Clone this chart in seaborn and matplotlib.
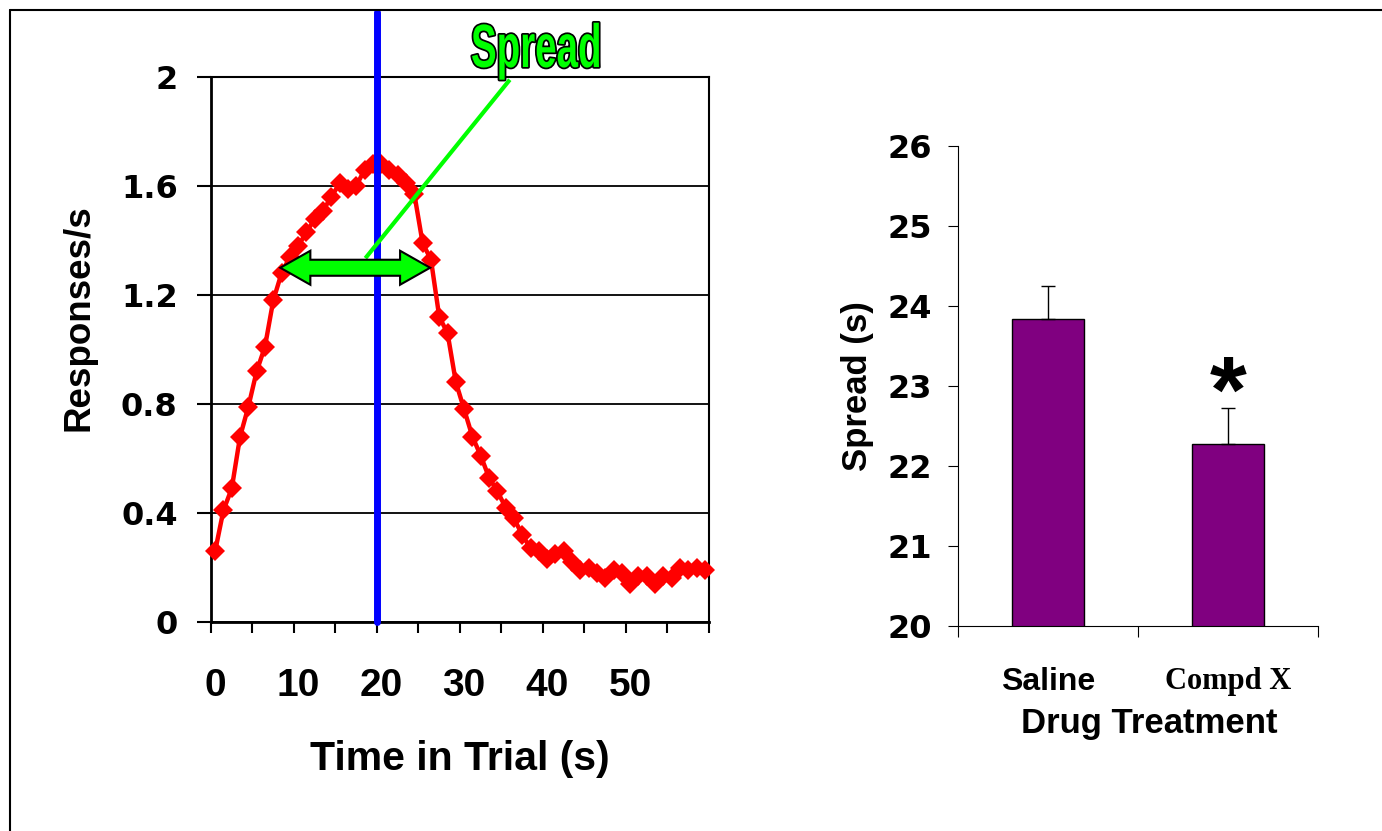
import matplotlib
matplotlib.use("Agg")
import matplotlib.pyplot as plt
import matplotlib.colors as mcolors
import seaborn as sns
import pandas as pd
import numpy as np
from matplotlib import patheffects as pe
from matplotlib.transforms import Affine2D
from matplotlib.lines import Line2D
from matplotlib.patches import Polygon
from matplotlib.ticker import FixedLocator

# ---------------- data ----------------
time_s = list(range(60))
responses = [0.26, 0.41, 0.49, 0.68, 0.79, 0.92, 1.01, 1.18, 1.28, 1.34,
             1.38, 1.43, 1.48, 1.51, 1.56, 1.61, 1.59, 1.60, 1.66, 1.68,
             1.68, 1.66, 1.64, 1.61, 1.57, 1.39, 1.33, 1.12, 1.06, 0.88,
             0.78, 0.68, 0.61, 0.53, 0.48, 0.42, 0.38, 0.32, 0.27, 0.26,
             0.23, 0.25, 0.26, 0.22, 0.19, 0.20, 0.18, 0.16, 0.19, 0.18,
             0.14, 0.17, 0.17, 0.14, 0.17, 0.16, 0.20, 0.19, 0.20, 0.19]
left_yticks = [0, 0.4, 0.8, 1.2, 1.6, 2.0]
left_ytick_labels = ["0", "0.4", "0.8", "1.2", "1.6", "2"]
left_xticks = [0, 10, 20, 30, 40, 50]
left_xtick_labels = ["0", "10", "20", "30", "40", "50"]

treatments = ["Saline", "Compd X"]
spread_means = [23.84, 22.27]
spread_sem = [0.41, 0.46]
right_yticks = [20, 21, 22, 23, 24, 25, 26]

peak_time = 19.5                       # blue vertical marker
arrow_span = (7.85, 25.9)              # green double arrow (x extent)
arrow_level = 1.30                     # green double arrow (y)
pointer_start = (18.1, 1.335)          # green pointer line
pointer_end = (35.5, 1.99)

W, H = 1382, 831

sns.set_style("ticks")
plt.rcParams["font.family"] = ["Liberation Sans", "DejaVu Sans"]
plt.rcParams["font.weight"] = "bold"
for key in ["text.color", "axes.labelcolor", "xtick.color", "ytick.color",
            "axes.edgecolor"]:
    plt.rcParams[key] = "black"


class Squeeze(pe.AbstractPathEffect):
    """Draw text glyphs horizontally condensed, with an outline."""
    def __init__(self, sx, edge, lw, face):
        super().__init__()
        self.sx = sx
        self.edge = edge
        self.lw = lw
        self.face = mcolors.to_rgba(face)

    def draw_path(self, renderer, gc, tpath, affine, rgbFace=None):
        aff = Affine2D().scale(self.sx, 1.0) + affine
        g0 = renderer.new_gc()
        g0.copy_properties(gc)
        g0.set_foreground(self.edge)
        g0.set_linewidth(self.lw)
        g0.set_joinstyle("round")
        renderer.draw_path(g0, tpath, aff, self.face)
        g0.restore()
        g1 = renderer.new_gc()
        g1.copy_properties(gc)
        g1.set_linewidth(0)
        renderer.draw_path(g1, tpath, aff, self.face)
        g1.restore()


fig = plt.figure(figsize=(W / 100, H / 100), dpi=100, facecolor="white")
ax1 = fig.add_axes([211 / W, 1 - 622 / H, 498 / W, 545 / H])
ax2 = fig.add_axes([958.3 / W, 1 - 626 / H, 359.7 / W, 480 / H])

# ---------------- left: response-rate curve ----------------
df = pd.DataFrame({"t": time_s, "r": responses})
sns.lineplot(data=df, x="t", y="r", ax=ax1, color="#FF0000", lw=3.2,
             marker="D", markersize=10, markeredgewidth=0, zorder=3,
             clip_on=False)

ax1.set_xlim(-0.5, 59.5)
ax1.set_ylim(0, 2)
ax1.set_yticks(left_yticks)
ax1.set_yticklabels(left_ytick_labels, fontsize=23, fontweight="bold",
                    family="DejaVu Sans", color="black")
ax1.set_xticks(left_xticks)
ax1.set_xticklabels(left_xtick_labels, fontsize=28, fontweight="bold",
                    color="black")
ax1.xaxis.set_minor_locator(FixedLocator(np.arange(-0.5, 60, 5)))
ax1.tick_params(axis="x", which="major", length=0, pad=33)
ax1.tick_params(axis="x", which="minor", length=8, width=1.5,
                direction="out", bottom=True, color="black")
ax1.tick_params(axis="y", which="major", length=10, width=1.5,
                direction="out", pad=14, left=True, color="black")
ax1.grid(axis="y", color="black", lw=1.3)
ax1.grid(axis="x", visible=False)
for side in ["left", "bottom"]:
    ax1.spines[side].set_linewidth(2)
    ax1.spines[side].set_color("black")
for side in ["top", "right"]:
    ax1.spines[side].set_visible(True)
    ax1.spines[side].set_linewidth(1.5)
    ax1.spines[side].set_color("black")

ax1.set_xlabel("Time in Trial (s)", fontsize=29.5, fontweight="bold",
               color="black")
ax1.xaxis.label.set_va("baseline")
ax1.xaxis.set_label_coords(0.5, -0.2716)
ax1.set_ylabel("Responses/s", fontsize=26.5, fontweight="bold",
               color="black")
ax1.yaxis.label.set_va("baseline")
ax1.yaxis.set_label_coords(-0.246, 0.558)

# blue peak-time marker (extends above the plot area)
ax1.add_line(Line2D([peak_time, peak_time], [0, 1.119], color="#0000FF",
                    lw=5, transform=ax1.get_xaxis_transform(),
                    clip_on=False, zorder=4))

# green pointer line and double arrow
ax1.plot([pointer_start[0], pointer_end[0]], [pointer_start[1], pointer_end[1]],
         color="#00FF00", lw=3, clip_on=False, zorder=5,
         solid_capstyle="butt")
L, R = arrow_span
y0 = arrow_level
hl, hh, sh = 3.62, 0.0624, 0.0294
arrow_pts = [(L, y0), (L + hl, y0 + hh), (L + hl, y0 + sh), (R - hl, y0 + sh),
             (R - hl, y0 + hh), (R, y0), (R - hl, y0 - hh), (R - hl, y0 - sh),
             (L + hl, y0 - sh), (L + hl, y0 - hh)]
ax1.add_patch(Polygon(arrow_pts, closed=True, facecolor="#00FF00",
                      edgecolor="black", lw=1.5, zorder=6, clip_on=False))

fig.text(471 / W, 1 - 67 / H, "Spread", fontsize=44, fontweight="bold",
         ha="left", va="baseline", color="#00FF00",
         path_effects=[Squeeze(0.63, "black", 2.5, "#00FF00")])

# ---------------- right: spread bar chart ----------------
sns.barplot(x=treatments, y=spread_means, ax=ax2, color="#800080",
            saturation=1, width=0.4, edgecolor="black", linewidth=1,
            errorbar=None, zorder=2)
xpos = np.arange(len(treatments))
ax2.errorbar(xpos, spread_means,
             yerr=[np.zeros(len(spread_sem)), spread_sem],
             fmt="none", ecolor="black", elinewidth=1, capsize=5,
             capthick=1, zorder=3)
ax2.set_xlim(-0.5, 1.5)
ax2.set_ylim(20, 26)
ax2.set_yticks(right_yticks)
ax2.set_yticklabels([str(v) for v in right_yticks], fontsize=23,
                    fontweight="bold", family="DejaVu Sans", color="black")
ax2.set_xticks(xpos)
ax2.set_xticklabels(treatments, color="black")
xl = ax2.get_xticklabels()
xl[0].set_fontsize(23)
xl[0].set_fontweight("bold")
xl[0].set_family("Liberation Sans")
xl[1].set_fontsize(22)
xl[1].set_fontweight("bold")
xl[1].set_family("Liberation Serif")
ax2.xaxis.set_minor_locator(FixedLocator([-0.5, 0.5, 1.5]))
ax2.tick_params(axis="x", which="major", length=0, pad=29.5)
ax2.tick_params(axis="x", which="minor", length=8, width=0.8,
                direction="out", bottom=True, color="black")
ax2.tick_params(axis="y", which="major", length=7, width=0.8,
                direction="out", pad=12, left=True, color="black")
for side in ["top", "right"]:
    ax2.spines[side].set_visible(False)
for side in ["left", "bottom"]:
    ax2.spines[side].set_linewidth(0.8)
    ax2.spines[side].set_color("black")

ax2.set_xlabel("Drug Treatment", fontsize=25, fontweight="bold",
               color="black")
ax2.xaxis.label.set_va("baseline")
ax2.xaxis.set_label_coords(0.532, -0.223)
ax2.set_ylabel("Spread (s)", fontsize=25, fontweight="bold", color="black")
ax2.yaxis.label.set_va("baseline")
ax2.yaxis.set_label_coords(-0.255, 0.5)

ax2.text(1, 22.55, "*", ha="center", va="baseline", fontsize=68,
         fontweight="bold", color="black")

# figure border (top and left edges)
fig.add_artist(Line2D([10 / W, 1], [1 - 10 / H, 1 - 10 / H],
                      transform=fig.transFigure, color="black", lw=1.5))
fig.add_artist(Line2D([10 / W, 10 / W], [0, 1 - 10 / H],
                      transform=fig.transFigure, color="black", lw=1.5))

fig.savefig("out.png", dpi=100, facecolor="white")
